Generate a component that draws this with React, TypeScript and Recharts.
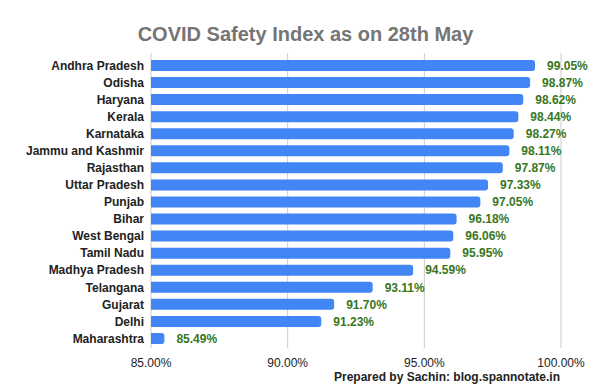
import React from "react";
import { BarChart, Bar, XAxis, YAxis, CartesianGrid, LabelList } from "recharts";

const states = [
  "Andhra Pradesh",
  "Odisha",
  "Haryana",
  "Kerala",
  "Karnataka",
  "Jammu and Kashmir",
  "Rajasthan",
  "Uttar Pradesh",
  "Punjab",
  "Bihar",
  "West Bengal",
  "Tamil Nadu",
  "Madhya Pradesh",
  "Telangana",
  "Gujarat",
  "Delhi",
  "Maharashtra",
];

const safetyIndex = [
  99.05, 98.87, 98.62, 98.44, 98.27, 98.11, 97.87, 97.33, 97.05, 96.18, 96.06, 95.95, 94.59, 93.11,
  91.7, 91.23, 85.49,
];

const xTicks = [85, 90, 95, 100];

const data = states.map((s, i) => ({ state: s, value: safetyIndex[i] }));

const FONT = "'Liberation Sans', Arial, sans-serif";

export default function App() {
  return (
    <div style={{ position: "absolute", left: 0, top: 0, width: 613, height: 388, background: "#fff", fontFamily: FONT }}>
      <div
        style={{
          position: "absolute",
          left: -1,
          top: 24,
          width: 613,
          textAlign: "center",
          fontSize: 20,
          lineHeight: "20px",
          fontWeight: "bold",
          color: "#757575",
          whiteSpace: "nowrap",
        }}
      >
        COVID Safety Index as on 28th May
      </div>
      <BarChart
        width={613}
        height={388}
        data={data}
        layout="vertical"
        margin={{ top: 53, right: 52, bottom: 0, left: 0 }}
      >
        <CartesianGrid horizontal={false} vertical={true} stroke="#cccccc" />
        <XAxis
          type="number"
          domain={[85, 100]}
          ticks={xTicks}
          allowDataOverflow
          height={40}
          axisLine={false}
          tickLine={false}
          tickSize={0}
          tickMargin={10}
          tickFormatter={(v: number) => v.toFixed(2) + "%"}
          tick={{ fill: "#222222", fontSize: 12, fontFamily: FONT }}
        />
        <YAxis
          type="category"
          dataKey="state"
          width={151}
          axisLine={false}
          tickLine={false}
          tickSize={0}
          tickMargin={7}
          padding={{ top: 4, bottom: 1 }}
          interval={0}
          tick={{ fill: "#222222", fontSize: 12, fontWeight: "bold", fontFamily: FONT }}
        />
        <Bar dataKey="value" fill="#4285f4" barSize={11} radius={[0, 3, 3, 0]} isAnimationActive={false}>
          <LabelList
            dataKey="value"
            position="right"
            offset={12}
            formatter={(v: number) => v.toFixed(2) + "%"}
            style={{ fill: "#38761d", fontSize: 12, fontWeight: "bold", fontFamily: FONT }}
          />
        </Bar>
      </BarChart>
      <div
        style={{
          position: "absolute",
          left: 0,
          top: 371,
          width: 560,
          textAlign: "right",
          fontSize: 12,
          lineHeight: "12px",
          fontWeight: "bold",
          color: "#222222",
          whiteSpace: "nowrap",
        }}
      >
        Prepared by Sachin: blog.spannotate.in
      </div>
    </div>
  );
}
